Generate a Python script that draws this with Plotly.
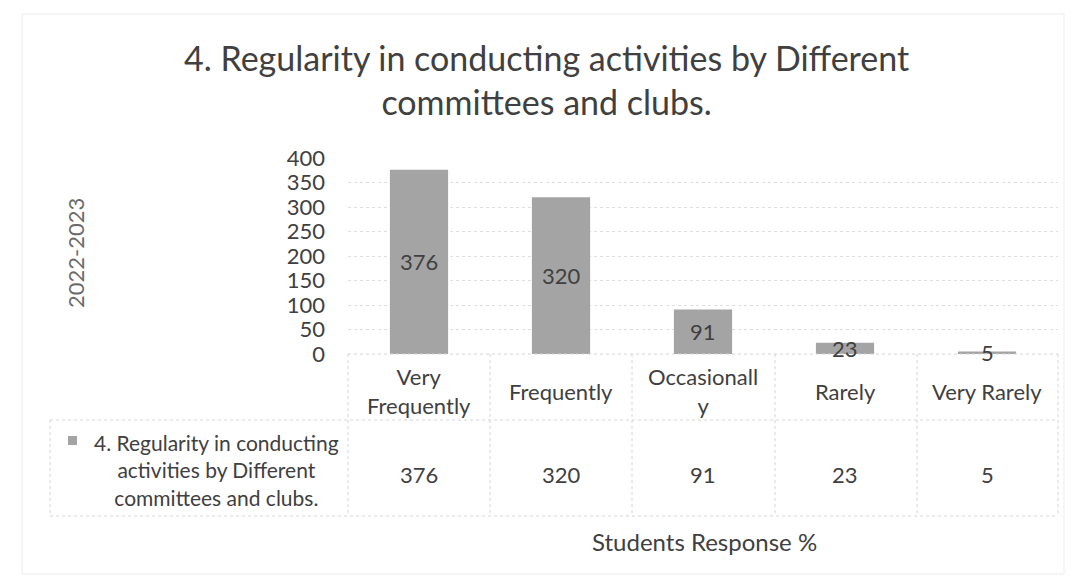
import plotly.graph_objects as go

categories = ["Very Frequently", "Frequently", "Occasionally", "Rarely", "Very Rarely"]
tick_labels = ["Very<br>Frequently", "Frequently", "Occasionall<br>y", "Rarely", "Very Rarely"]
values = [376, 320, 91, 23, 5]
series_name = "4. Regularity in conducting activities by Different committees and clubs."
title_text = "4. Regularity in conducting activities by Different<br>committees and clubs."
legend_text = "4. Regularity in conducting<br>activities by Different<br>committees and clubs."
y_title = "2022-2023"
x_title = "Students Response %"

W, H = 1074, 581
L, R, T, B = 348, 1058, 158, 354
FONT = "Lato"
TXT = "#404040"
BAR = "#a4a4a4"
GRID = "#dedede"


def px(x):
    return (x - L) / (R - L)


def py(y):
    return (B - y) / (B - T)


fig = go.Figure()
fig.add_trace(go.Bar(x=categories, y=values, marker=dict(color=BAR, line=dict(width=0)),
                     name=series_name, showlegend=False, hoverinfo="x+y"))

annotations = []
annotations.append(dict(text=title_text, x=px(546), y=py(80), xref="paper", yref="paper",
                        showarrow=False, font=dict(family=FONT, size=34, color=TXT),
                        xanchor="center", yanchor="middle"))
for c, v in zip(categories, values):
    annotations.append(dict(text=str(v), x=c, y=v / 2, xref="x", yref="y", showarrow=False,
                            font=dict(family=FONT, size=22, color=TXT), yanchor="middle"))
for c, t, v in zip(categories, tick_labels, values):
    annotations.append(dict(text=t, x=c, y=py(391), xref="x", yref="paper", showarrow=False,
                            font=dict(family=FONT, size=22, color=TXT), yanchor="middle"))
    annotations.append(dict(text=str(v), x=c, y=py(474), xref="x", yref="paper", showarrow=False,
                            font=dict(family=FONT, size=22, color=TXT), yanchor="middle"))
annotations.append(dict(text=legend_text, x=px(216), y=py(470), xref="paper", yref="paper",
                        showarrow=False, font=dict(family=FONT, size=21, color=TXT), align="center",
                        xanchor="center", yanchor="middle"))
annotations.append(dict(text=y_title, x=px(75), y=py(253), xref="paper", yref="paper",
                        showarrow=False, textangle=-90, font=dict(family=FONT, size=22, color="#6a6a6a"),
                        xanchor="center", yanchor="middle"))
annotations.append(dict(text=x_title, x=px(704), y=py(541), xref="paper", yref="paper",
                        showarrow=False, font=dict(family=FONT, size=24, color=TXT),
                        xanchor="center", yanchor="middle"))

shapes = []
line = dict(color="#d4d4d4", width=1, dash="dot")
shapes.append(dict(type="line", xref="paper", yref="paper", x0=px(L), x1=px(R), y0=py(354), y1=py(354), line=line))
for yy in (420, 516):
    shapes.append(dict(type="line", xref="paper", yref="paper", x0=px(50), x1=px(R), y0=py(yy), y1=py(yy), line=line))
shapes.append(dict(type="line", xref="paper", yref="paper", x0=px(50), x1=px(50), y0=py(420), y1=py(516), line=line))
for xx in (348, 490, 632, 775, 917, 1058):
    shapes.append(dict(type="line", xref="paper", yref="paper", x0=px(xx), x1=px(xx), y0=py(354), y1=py(516), line=line))
shapes.append(dict(type="rect", xref="paper", yref="paper", x0=px(68), x1=px(77), y0=py(436), y1=py(445),
                   fillcolor=BAR, line=dict(width=0)))
shapes.append(dict(type="rect", xref="paper", yref="paper", x0=px(22), x1=px(1064), y0=py(14), y1=py(574),
                   line=dict(color="#ececec", width=1)))

fig.update_layout(
    width=W, height=H,
    margin=dict(l=L, r=W - R, t=T, b=H - B, pad=0),
    paper_bgcolor="white", plot_bgcolor="white",
    bargap=0.59,
    showlegend=False,
    annotations=annotations,
    shapes=shapes,
    xaxis=dict(range=[-0.5, 4.5], showticklabels=False, showgrid=False, zeroline=False,
               showline=False, ticks="", fixedrange=True),
    yaxis=dict(range=[0, 400], dtick=50, tick0=0, showgrid=True, gridcolor=GRID, griddash="dot",
               zeroline=False, showline=False, ticks="", ticklabelstandoff=22,
               tickfont=dict(family=FONT, size=22, color=TXT), fixedrange=True),
)

fig.write_html("out.html", config={"displayModeBar": False},
               post_script="document.body.style.margin='0px';document.body.style.overflow='hidden';")
